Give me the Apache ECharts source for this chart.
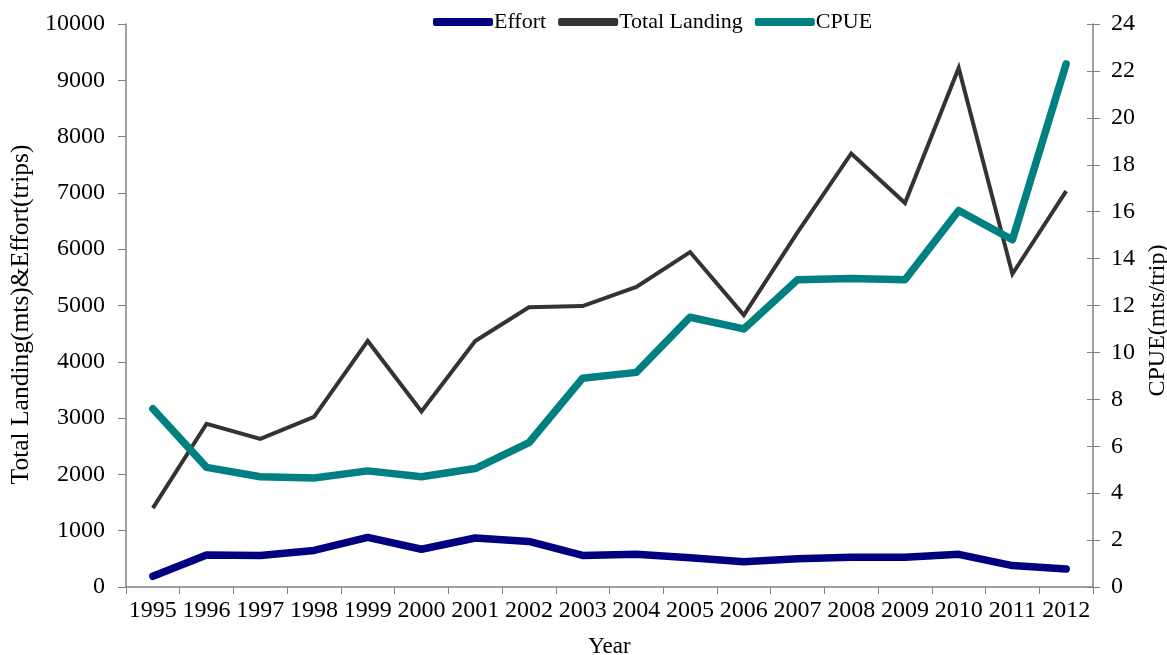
<!DOCTYPE html>
<html><head><meta charset="utf-8">
<script src="https://cdn.jsdelivr.net/npm/echarts@6/dist/echarts.min.js"></script>
<style>html,body{margin:0;padding:0;background:#fff}#c{width:1167px;height:655px}</style>
</head><body><div id="c"></div>
<script>
const years = ['1995','1996','1997','1998','1999','2000','2001','2002','2003','2004','2005','2006','2007','2008','2009','2010','2011','2012'];
const effort = [190,570,560,650,880,670,870,810,560,580,520,450,500,530,530,580,380,320];
const totalLanding = [1400,2900,2630,3020,4370,3120,4370,4970,4990,5330,5950,4830,6300,7700,6820,9220,5560,7030];
const cpue = [7.6,5.1,4.7,4.65,4.95,4.7,5.05,6.15,8.9,9.15,11.5,11.0,13.1,13.15,13.1,16.05,14.8,22.3];
const leftTicks = {min:0, max:10000, interval:1000};
const rightTicks = {min:0, max:24, interval:2};

const font = '"Liberation Serif", "Times New Roman", serif';
const axisColor = '#808080';
const chart = echarts.init(document.getElementById('c'));
chart.setOption({
  animation:false,
  textStyle:{fontFamily:font, color:'#000'},
  legend:{
    top:6, left:428, itemWidth:60, itemHeight:8, itemGap:12,
    textStyle:{fontFamily:font, fontSize:22, color:'#000', padding:[0,0,0,-4]},
    data:['Effort','Total Landing','CPUE'],
    icon:'roundRect'
  },
  grid:{left:126, right:74, top:24, bottom:68, containLabel:false, outerBoundsMode:'none'},
  xAxis:{
    type:'category', data:years, boundaryGap:true,
    name:'Year', nameLocation:'middle', nameGap:48,
    nameTextStyle:{fontFamily:font, fontSize:23, color:'#000'},
    axisLine:{lineStyle:{color:axisColor, width:1.5}},
    axisTick:{show:true, alignWithLabel:false, length:7, lineStyle:{color:axisColor}},
    axisLabel:{fontFamily:font, fontSize:24, color:'#000', margin:12, interval:0}
  },
  yAxis:[{
    type:'value', position:'left', min:leftTicks.min, max:leftTicks.max, interval:leftTicks.interval,
    name:'Total Landing(mts)&Effort(trips)', nameLocation:'middle', nameGap:88, nameRotate:90,
    nameTextStyle:{fontFamily:font, fontSize:25.5, color:'#000', padding:[0,18,0,0]},
    axisLine:{show:true, lineStyle:{color:axisColor, width:1.5}},
    axisTick:{show:true, length:8, lineStyle:{color:axisColor}},
    splitLine:{show:false},
    axisLabel:{fontFamily:font, fontSize:24, color:'#000', margin:21, formatter:v=>String(v)}
  },{
    type:'value', position:'right', min:rightTicks.min, max:rightTicks.max, interval:rightTicks.interval,
    name:'CPUE(mts/trip)', nameLocation:'middle', nameGap:40, nameRotate:90,
    nameTextStyle:{fontFamily:font, fontSize:24, color:'#000', padding:[0,30,0,0]},
    axisLine:{show:true, lineStyle:{color:axisColor, width:1.5}},
    axisTick:{show:true, length:7, lineStyle:{color:axisColor}},
    splitLine:{show:false},
    axisLabel:{fontFamily:font, fontSize:24, color:'#000', margin:18, formatter:v=>String(v)}
  },{
    type:'value', position:'right', min:rightTicks.min, max:rightTicks.max, interval:rightTicks.interval,
    axisLine:{show:false},
    axisTick:{show:true, inside:true, length:6, lineStyle:{color:axisColor}},
    splitLine:{show:false},
    axisLabel:{show:false}
  }],
  series:[
    {name:'Effort', type:'line', yAxisIndex:0, data:effort, symbol:'none',
     lineStyle:{color:'#000080', width:7.5, cap:'round', join:'round'}, itemStyle:{color:'#000080'}},
    {name:'Total Landing', type:'line', yAxisIndex:0, data:totalLanding, symbol:'none',
     lineStyle:{color:'#333333', width:4, join:'miter'}, itemStyle:{color:'#333333'}},
    {name:'CPUE', type:'line', yAxisIndex:1, data:cpue, symbol:'none',
     lineStyle:{color:'#008080', width:7.5, cap:'round', join:'round'}, itemStyle:{color:'#008080'}}
  ]
});
</script></body></html>
